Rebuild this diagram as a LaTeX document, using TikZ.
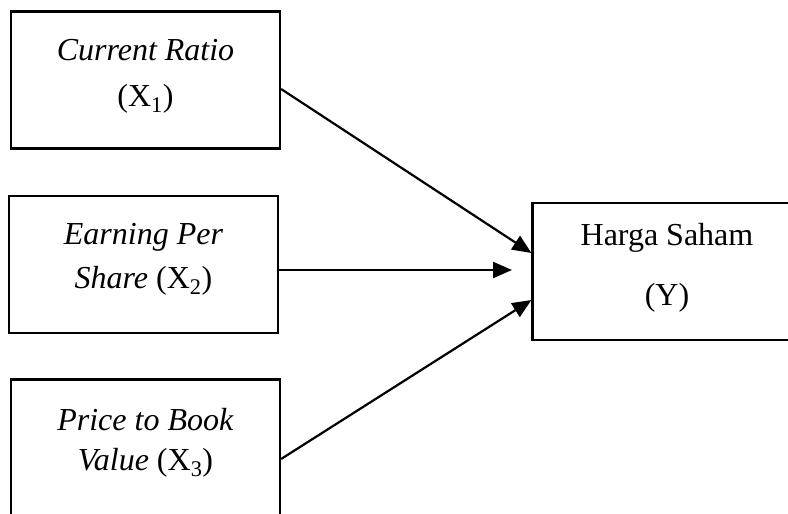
\documentclass[tikz,border=0pt]{standalone}
\usepackage{fontspec}
\setmainfont{Liberation Serif}
\usepackage{tikz}
\usetikzlibrary{positioning, arrows.meta}

\begin{document}
\begin{tikzpicture}[
      x=1pt, y=-1pt,
      var/.style={draw, line width=2.2pt, minimum width=269pt,
      minimum height=137pt, inner sep=0pt},
      txt/.style={align=center, font=\fontsize{32}{34}\selectfont},
      rel/.style={-{Triangle[length=19pt, width=16pt]}, line width=2.2pt}
    ]
    \clip (0,0) rectangle (788,514);

    \node[var, label={[txt, yshift=4pt]center:{\textit{Current Ratio}\\[12pt](X\textsubscript{1})}}] (cr) at (145.5,80) {};
    \node[var, label={[txt, yshift=5pt]center:{\textit{Earning Per}\\[10pt]\textit{Share} (X\textsubscript{2})}}] (eps) at (143.5,264.5) {};
    \node[var, label={[txt, yshift=5pt]center:{\textit{Price to Book}\\[6pt]\textit{Value} (X\textsubscript{3})}}] (pbv) at (145.5,448) {};
    \node[var, label={[txt, yshift=4pt]center:{Harga Saham\\[26pt](Y)}}] (hs) at (667,271.5) {};

    \coordinate (epsend) at (512,270);

    \draw[rel] ([yshift=-9pt]cr.east) -- ([yshift=18.5pt]hs.west);
    \draw[rel] ([yshift=-5.5pt]eps.east) -- (epsend);
    \draw[rel] ([yshift=-11pt]pbv.east) -- ([yshift=-28.5pt]hs.west);
  \end{tikzpicture}
\end{document}
